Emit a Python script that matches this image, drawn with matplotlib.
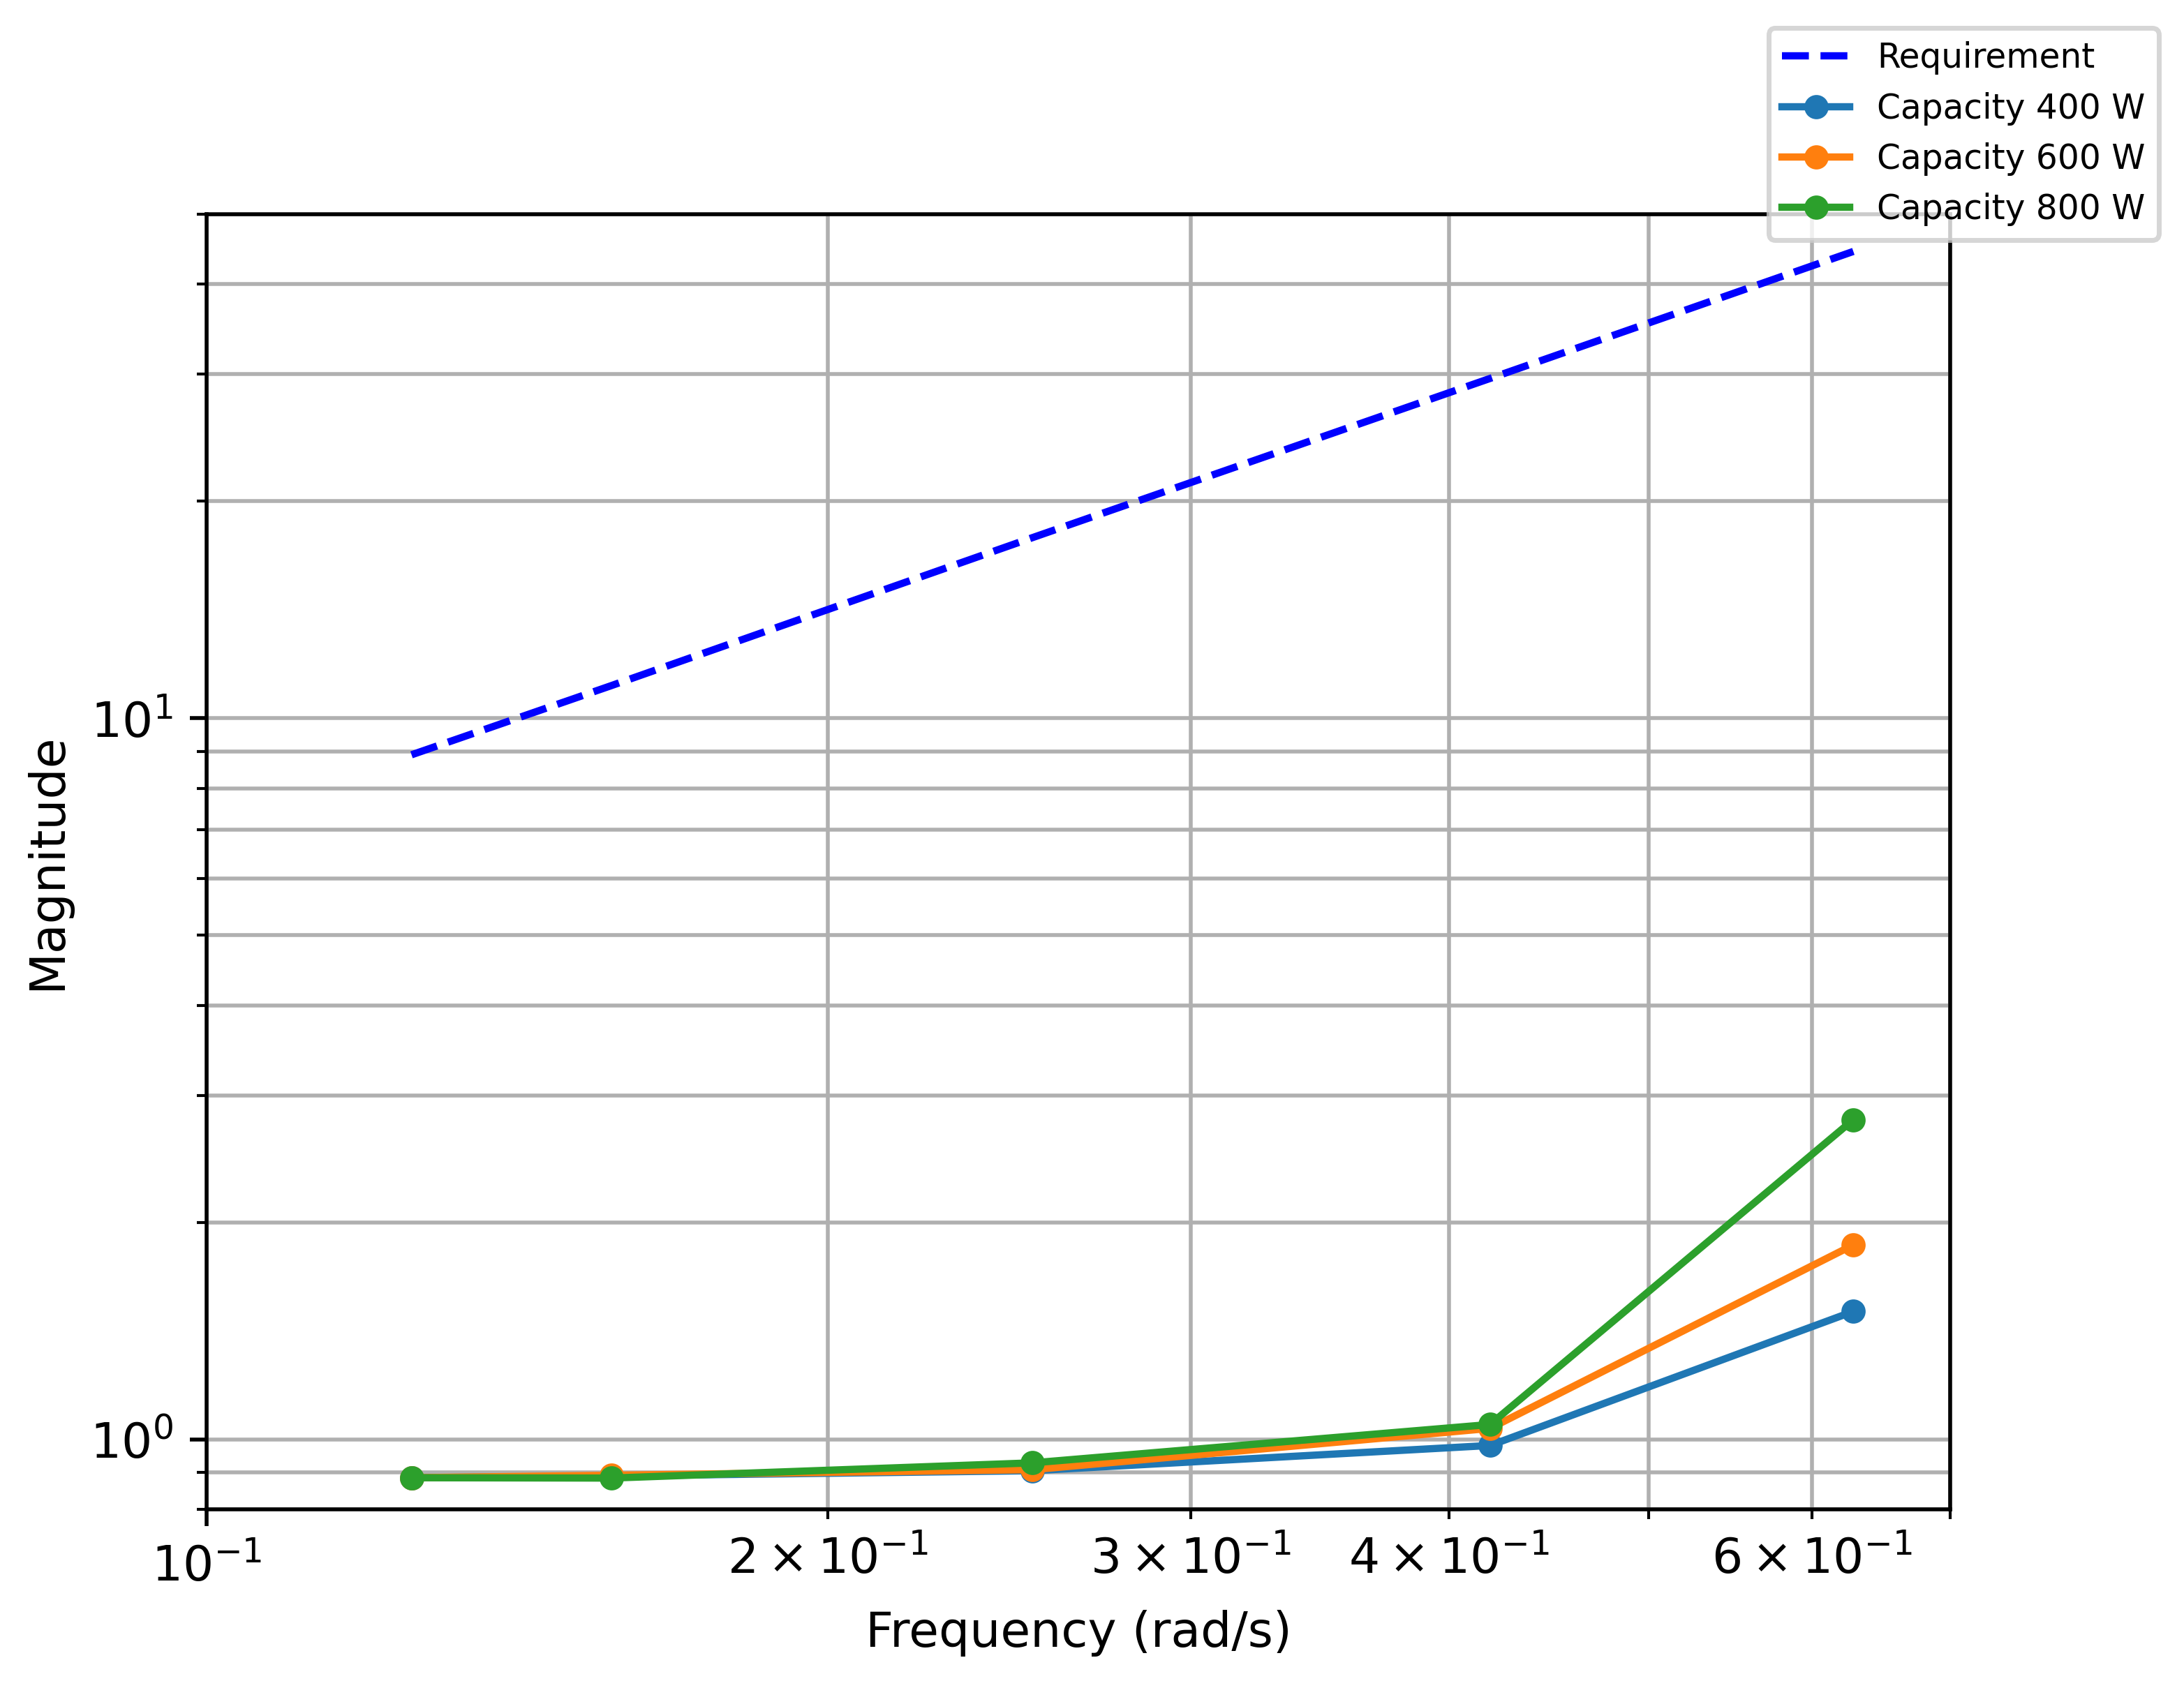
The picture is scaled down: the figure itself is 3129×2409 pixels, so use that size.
import numpy as np
import matplotlib
matplotlib.use('Agg')
import matplotlib.pyplot as plt

# frequency points (rad/s)
freq = [0.1257, 0.1571, 0.2513, 0.4189, 0.6283]
requirement = [8.9, 11.1, 17.8, 29.6, 44.4]

capacities = ['400', '600', '800']
mag_400 = [0.885, 0.890, 0.905, 0.981, 1.505]
mag_600 = [0.885, 0.892, 0.908, 1.036, 1.861]
mag_800 = [0.885, 0.884, 0.928, 1.049, 2.776]
series = [mag_400, mag_600, mag_800]
colors = ['#1f77b4', '#ff7f0e', '#2ca02c']

W, H, DPI = 3129, 2409, 500
fig = plt.figure(figsize=(W / DPI, H / DPI), dpi=DPI)
ax = fig.add_axes([296 / W, 1 - 2163 / H, 2498 / W, 1856 / H])

ax.loglog(freq, requirement, 'b--', linewidth=1.5, label='Requirement')
for cap, mag, c in zip(capacities, series, colors):
    ax.loglog(freq, mag, 'o-', color=c, markersize=4, linewidth=1.5,
              label='Capacity %s W' % cap)

ax.set_xlim(0.1, 0.7)
ax.set_ylim(0.8, 50)
ax.set_xlabel('Frequency (rad/s)')
ax.set_ylabel('Magnitude')
ax.grid(True, which='both')

ax.legend(loc='upper right', fontsize=7, borderaxespad=0,
          bbox_to_anchor=(3093 / W, 1 - 40 / H), bbox_transform=fig.transFigure)

fig.savefig('out.png', dpi=DPI)
plt.close(fig)
